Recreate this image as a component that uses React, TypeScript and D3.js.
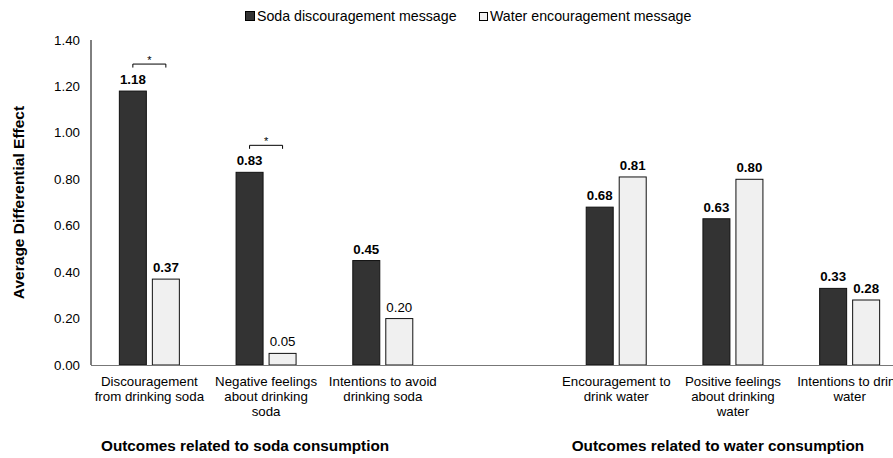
import React from "react";
import * as d3 from "d3";

const categories = [
  "Discouragement from drinking soda",
  "Negative feelings about drinking soda",
  "Intentions to avoid drinking soda",
  "",
  "Encouragement to drink water",
  "Positive feelings about drinking water",
  "Intentions to drink water",
];
const categoryLines = [
  ["Discouragement", "from drinking soda"],
  ["Negative feelings", "about drinking", "soda"],
  ["Intentions to avoid", "drinking soda"],
  [],
  ["Encouragement to", "drink water"],
  ["Positive feelings", "about drinking", "water"],
  ["Intentions to drink", "water"],
];
const sodaValues = [1.18, 0.83, 0.45, null, 0.68, 0.63, 0.33];
const waterValues = [0.37, 0.05, 0.2, null, 0.81, 0.8, 0.28];
const sodaBold = [true, true, true, false, true, true, true];
const waterBold = [true, false, false, false, true, true, true];
const significant = [true, true, false, false, false, false, false];
const yTicks = [0, 0.2, 0.4, 0.6, 0.8, 1.0, 1.2, 1.4];
const seriesNames = ["Soda discouragement message", "Water encouragement message"];
const groupTitles = ["Outcomes related to soda consumption", "Outcomes related to water consumption"];

const W = 893;
const H = 458;
const FONT = "Liberation Sans, Arial, sans-serif";

export default function App() {
  const x = d3.scaleBand<string>().domain(categories.map((c, i) => String(i))).range([91, 908]).padding(0);
  const y = d3.scaleLinear().domain([0, 1.4]).range([365, 40]);
  const bw = 27;
  const gap = 3;

  return (
    <svg width={W} height={H} style={{ position: "absolute", left: 0, top: 0, background: "#fff" }} fontFamily={FONT}>
      {/* legend */}
      <rect x={245.5} y={11.5} width={9} height={9} fill="#333" stroke="#000" />
      <text x={257} y={21} fontSize={14.2}>{seriesNames[0]}</text>
      <rect x={479.5} y={12.5} width={8} height={8} fill="#f2f2f2" stroke="#000" />
      <text x={490} y={21} fontSize={14.2}>{seriesNames[1]}</text>

      {/* y axis */}
      <line x1={91} x2={91} y1={y(1.4)} y2={y(0)} stroke="#000" />
      {yTicks.map((t) => (
        <text key={t} x={80} y={y(t) + 4.5} fontSize={13.3} textAnchor="end">{t.toFixed(2)}</text>
      ))}
      <text transform={`translate(24,${y(0.7)}) rotate(-90)`} fontSize={15.5} fontWeight="bold" textAnchor="middle">Average Differential Effect</text>

      {/* bars */}
      {categories.map((c, i) => {
        const cx = (x(String(i)) as number) + x.bandwidth() / 2;
        const s = sodaValues[i];
        const w = waterValues[i];
        return (
          <g key={i}>
            {s !== null && (
              <g>
                <rect x={cx - gap - bw} y={y(s)} width={bw} height={y(0) - y(s)} fill="#333333" stroke="#111" strokeWidth={1} />
                <text x={cx - gap - bw / 2} y={y(s) - 7} fontSize={13.3} fontWeight={sodaBold[i] ? "bold" : "normal"} textAnchor="middle">{s.toFixed(2)}</text>
              </g>
            )}
            {w !== null && (
              <g>
                <rect x={cx + gap} y={y(w)} width={bw} height={y(0) - y(w)} fill="#f0f0f0" stroke="#111" strokeWidth={1} />
                <text x={cx + gap + bw / 2} y={y(w) - 7} fontSize={13.3} fontWeight={waterBold[i] ? "bold" : "normal"} textAnchor="middle">{w.toFixed(2)}</text>
              </g>
            )}
            {significant[i] && s !== null && (
              <g>
                <path d={`M${cx - gap - bw / 2},${y(s) - 23.5}V${y(s) - 27}H${cx + gap + bw / 2}V${y(s) - 23.5}`} fill="none" stroke="#000" />
                <text x={cx} y={y(s) - 27} fontSize={11} textAnchor="middle">*</text>
              </g>
            )}
            {categoryLines[i].map((line, j) => (
              <text key={j} x={cx} y={386 + j * 15} fontSize={13.3} textAnchor="middle">{line}</text>
            ))}
          </g>
        );
      })}

      {/* x axis */}
      <line x1={91} x2={W} y1={y(0) + 0.5} y2={y(0) + 0.5} stroke="#777" />

      <text x={(x("1") as number) + x.bandwidth() / 2 - 21} y={451} fontSize={15.3} fontWeight="bold" textAnchor="middle">{groupTitles[0]}</text>
      <text x={(x("5") as number) + x.bandwidth() / 2 - 15} y={451} fontSize={15.3} fontWeight="bold" textAnchor="middle">{groupTitles[1]}</text>
    </svg>
  );
}
